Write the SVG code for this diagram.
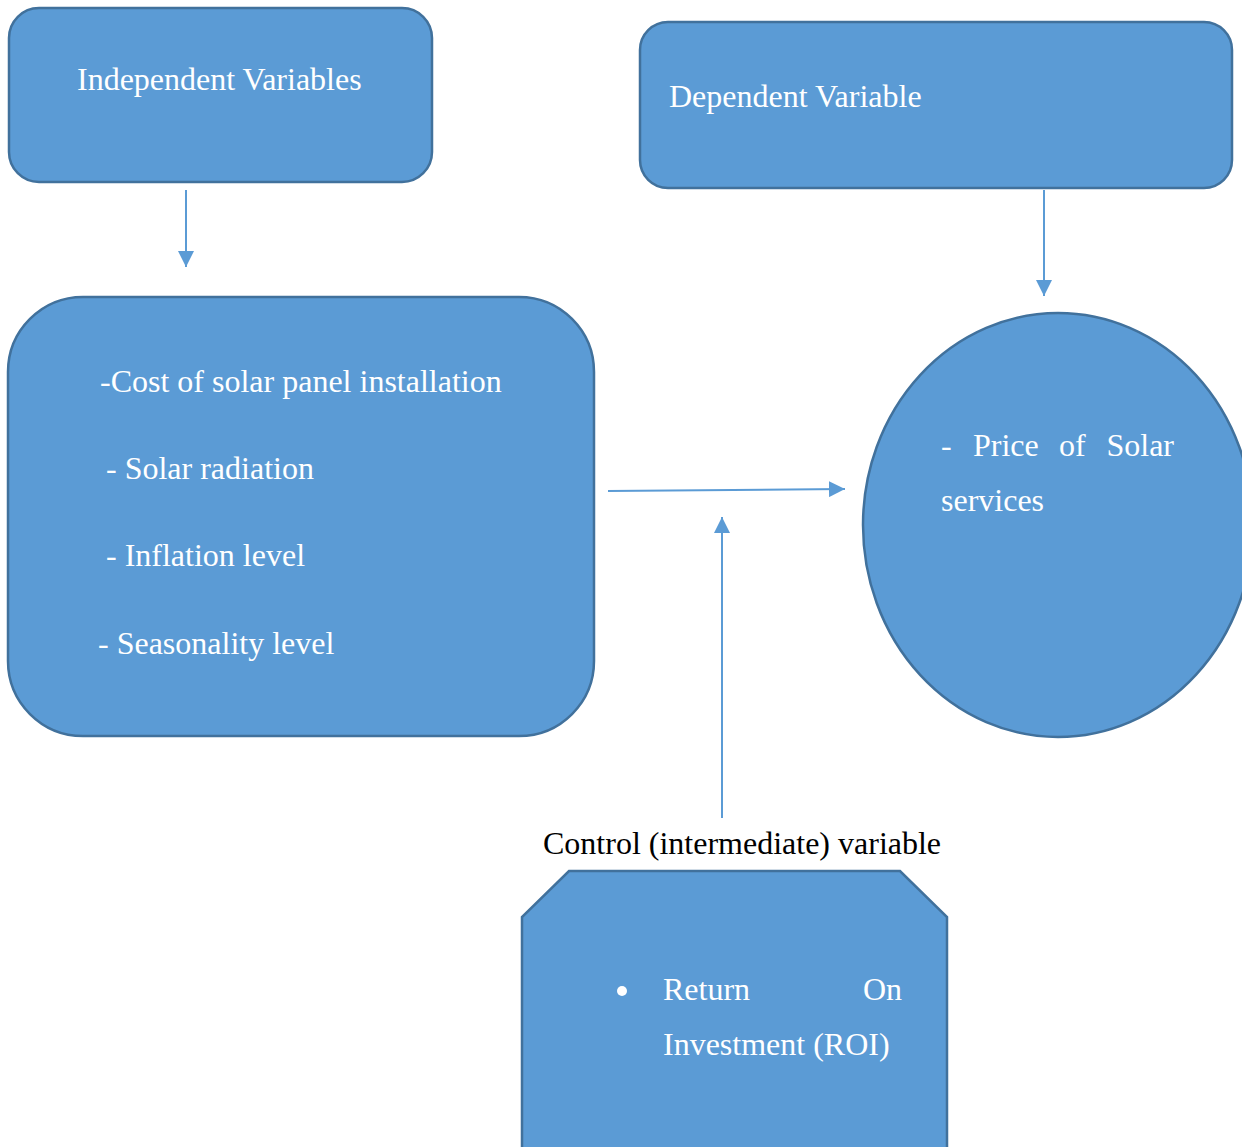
<svg xmlns="http://www.w3.org/2000/svg" width="1242" height="1147" viewBox="0 0 1242 1147">
<style>
.n{fill:#5B9BD5;stroke:#41719C;stroke-width:2.5}
.t{font-family:"Liberation Serif","Times New Roman",serif;font-size:32px;fill:#fff}
.k{font-family:"Liberation Serif","Times New Roman",serif;font-size:32px;fill:#000}
.c{stroke:#5B9BD5;stroke-width:2;fill:none}
</style>
<defs>
<marker id="a" viewBox="0 0 16 16" refX="16" refY="8" markerWidth="16" markerHeight="16" orient="auto" markerUnits="userSpaceOnUse">
<path d="M0,0 L16,8 L0,16 z" fill="#5B9BD5"/>
</marker>
</defs>
<rect width="1242" height="1147" fill="#fff"/>
<g id="independent">
<rect class="n" x="9" y="8" width="423" height="174" rx="30"/>
<text class="t" x="77" y="90">Independent Variables</text>
</g>
<g id="dependent">
<rect class="n" x="640" y="22" width="592" height="166" rx="28"/>
<text class="t" x="669" y="107">Dependent Variable</text>
</g>
<g id="factors">
<rect class="n" x="8" y="297" width="586" height="439" rx="75"/>
<text class="t" x="100" y="392">-Cost of solar panel installation</text>
<text class="t" x="106" y="479">- Solar radiation</text>
<text class="t" x="106" y="566">- Inflation level</text>
<text class="t" x="98" y="654">- Seasonality level</text>
</g>
<g id="price">
<ellipse class="n" cx="1058" cy="525" rx="195" ry="212"/>
<text class="t" x="941" y="456">-</text>
<text class="t" x="973" y="456">Price</text>
<text class="t" x="1059" y="456">of</text>
<text class="t" x="1174" y="456" text-anchor="end">Solar</text>
<text class="t" x="941" y="511">services</text>
</g>
<g id="control-label">
<text class="k" x="543" y="854">Control (intermediate) variable</text>
</g>
<g id="roi">
<path class="n" d="M569,871 L900,871 L947,917 L947,1160 L522,1160 L522,917 Z"/>
<circle cx="622" cy="991" r="5" fill="#fff"/>
<text class="t" x="663" y="1000">Return</text>
<text class="t" x="902" y="1000" text-anchor="end">On</text>
<text class="t" x="663" y="1055">Investment (ROI)</text>
</g>
<g id="connectors">
<line class="c" x1="186" y1="190" x2="186" y2="267" marker-end="url(#a)"/>
<line class="c" x1="1044" y1="190" x2="1044" y2="296" marker-end="url(#a)"/>
<line class="c" x1="608" y1="491" x2="845" y2="489" marker-end="url(#a)"/>
<line class="c" x1="722" y1="818" x2="722" y2="517" marker-end="url(#a)"/>
</g>
</svg>
